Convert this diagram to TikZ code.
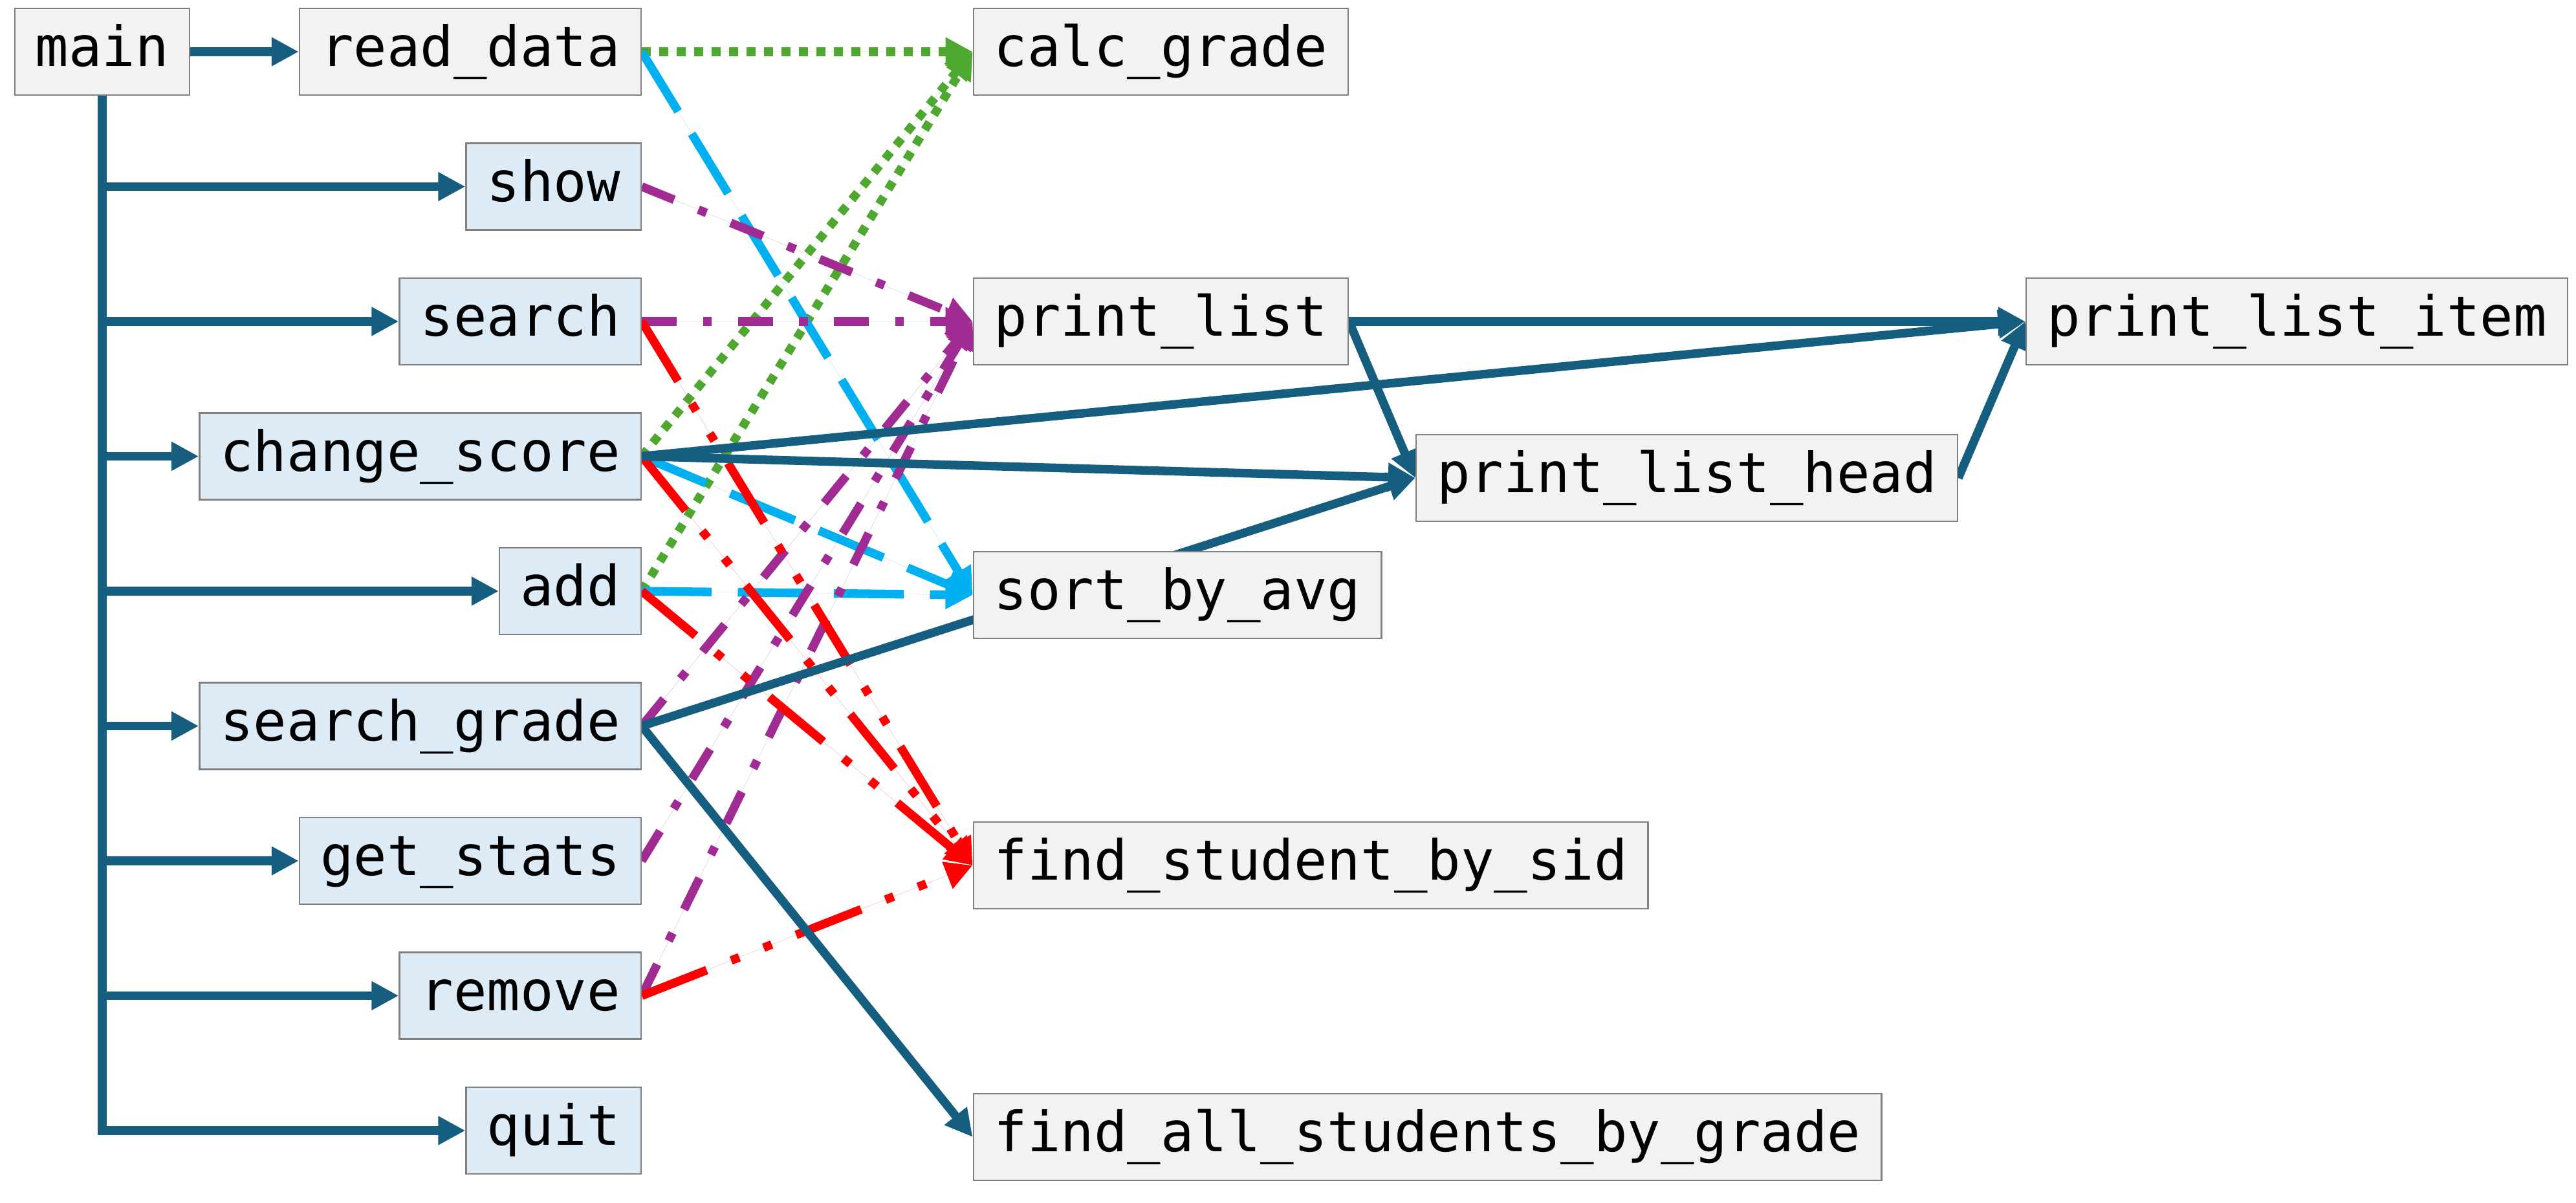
\documentclass[tikz,border=0pt]{standalone}
\usepackage{fontspec}
\setmonofont{DejaVu Sans Mono}
\usepackage{tikz}
\usetikzlibrary{arrows.meta}
\usetikzlibrary{positioning,backgrounds}
\definecolor{callblue}{RGB}{22,94,128}
\definecolor{boxline}{RGB}{128,128,128}
\definecolor{boxgray}{RGB}{242,242,242}
\definecolor{boxblue}{RGB}{221,235,247}
\definecolor{dotgreen}{RGB}{78,167,46}
\definecolor{dashcyan}{RGB}{0,176,240}
\definecolor{dashpurple}{RGB}{160,43,147}
\tikzstyle{block} = [rectangle, draw=boxline, line width=0.025cm, fill=boxgray, font=\ttfamily\fontsize{24.35pt}{29pt}\selectfont, text height=0.68cm, text depth=0.22cm, inner xsep=0.32cm, inner ysep=0.2cm, minimum height=1.34cm]
\tikzstyle{caller} = [block, fill=boxblue]
\tikzstyle{link} = [line width=0.133cm, draw=callblue, -{Triangle[length=0.42cm,width=0.42cm]}]
\tikzstyle{greenlink} = [link, draw=dotgreen, fill=dotgreen, dash pattern=on 0.135cm off 0.135cm]
\tikzstyle{cyanlink} = [link, draw=dashcyan, fill=dashcyan, dash pattern=on 1.08cm off 0.405cm]
\tikzstyle{purplelink} = [link, draw=dashpurple, fill=dashpurple, dash pattern=on 0.54cm off 0.405cm on 0.135cm off 0.405cm]
\tikzstyle{redlink} = [link, draw=red, fill=red, dash pattern=on 1.08cm off 0.405cm on 0.135cm off 0.405cm on 0.135cm off 0.405cm]

\begin{document}
\begin{tikzpicture}
   \useasboundingbox (0,0) rectangle (39.82,-18.60);
   % Place nodes
   \node [block] (main) at (1.58,-0.80) {main};
   \node [block, right = 1.675 cm of main] (read-data) {read\_data};
   \node [caller, below left = 0.72 cm and 0 cm of read-data.south east] (show) {show};
   \node [caller, below left = 0.72 cm and 0 cm of show.south east] (search) {search};
   \node [caller, below left = 0.72 cm and 0 cm of search.south east] (change-score) {change\_score};
   \node [caller, below left = 0.72 cm and 0 cm of change-score.south east] (add) {add};
   \node [caller, below left = 0.72 cm and 0 cm of add.south east] (search-grade) {search\_grade};
   \node [caller, below left = 0.72 cm and 0 cm of search-grade.south east] (get-stats) {get\_stats};
   \node [caller, below left = 0.72 cm and 0 cm of get-stats.south east] (remove) {remove};
   \node [caller, below left = 0.72 cm and 0 cm of remove.south east] (quit) {quit};

   \node [block, right = 5.115 cm of read-data] (calc-grade) {calc\_grade};
   \node [block, right = 5.115 cm of search] (print-list) {print\_list};
   \node [block, right = 5.115 cm of add, yshift=-0.06cm] (sort) {sort\_by\_avg};
   \node [block, right = 5.115 cm of get-stats, yshift=-0.07cm] (find-sid) {find\_student\_by\_sid};
   \node [block, right = 5.115 cm of quit, yshift=-0.10cm] (find-all) {find\_all\_students\_by\_grade};
   \node [block, right = 10.455 cm of print-list] (print-item) {print\_list\_item};
   \node [block, below right = 1.055 cm and 1.025 cm of print-list.south east] (print-head) {print\_list\_head};

   \begin{scope}[on background layer]
   \fill[white] (0,0) rectangle (39.82,-18.60);
   % Calls from main
   \draw[link] (main) -- (read-data);
   \foreach \f in {show,search,change-score,add,search-grade,get-stats,remove,quit}
      \draw[link] (main.south) |- (\f.west);

   % Calls between functions
   \draw[greenlink] (read-data.east) -- (calc-grade.west);
   \draw[greenlink] (change-score.east) -- (calc-grade.west);
   \draw[greenlink] (add.east) -- (calc-grade.west);
   \draw[cyanlink] (read-data.east) -- (sort.west);
   \draw[cyanlink] (change-score.east) -- (sort.west);
   \draw[cyanlink] (add.east) -- (sort.west);
   \foreach \f in {show,search,search-grade,get-stats,remove}
      \draw[purplelink] (\f.east) -- (print-list.west);
   \foreach \f in {search,change-score,add,remove}
      \draw[redlink] (\f.east) -- (find-sid.west);
   \draw[link] (change-score.east) -- (print-item.west);
   \draw[link] (change-score.east) -- (print-head.west);
   \draw[link] (search-grade.east) -- (print-head.west);
   \draw[link] (search-grade.east) -- (find-all.west);
   \draw[link] (print-list.east) -- (print-item.west);
   \draw[link] (print-list.east) -- (print-head.west);
   \draw[link] (print-head.east) -- (print-item.west);
   \end{scope}
\end{tikzpicture}
\end{document}
